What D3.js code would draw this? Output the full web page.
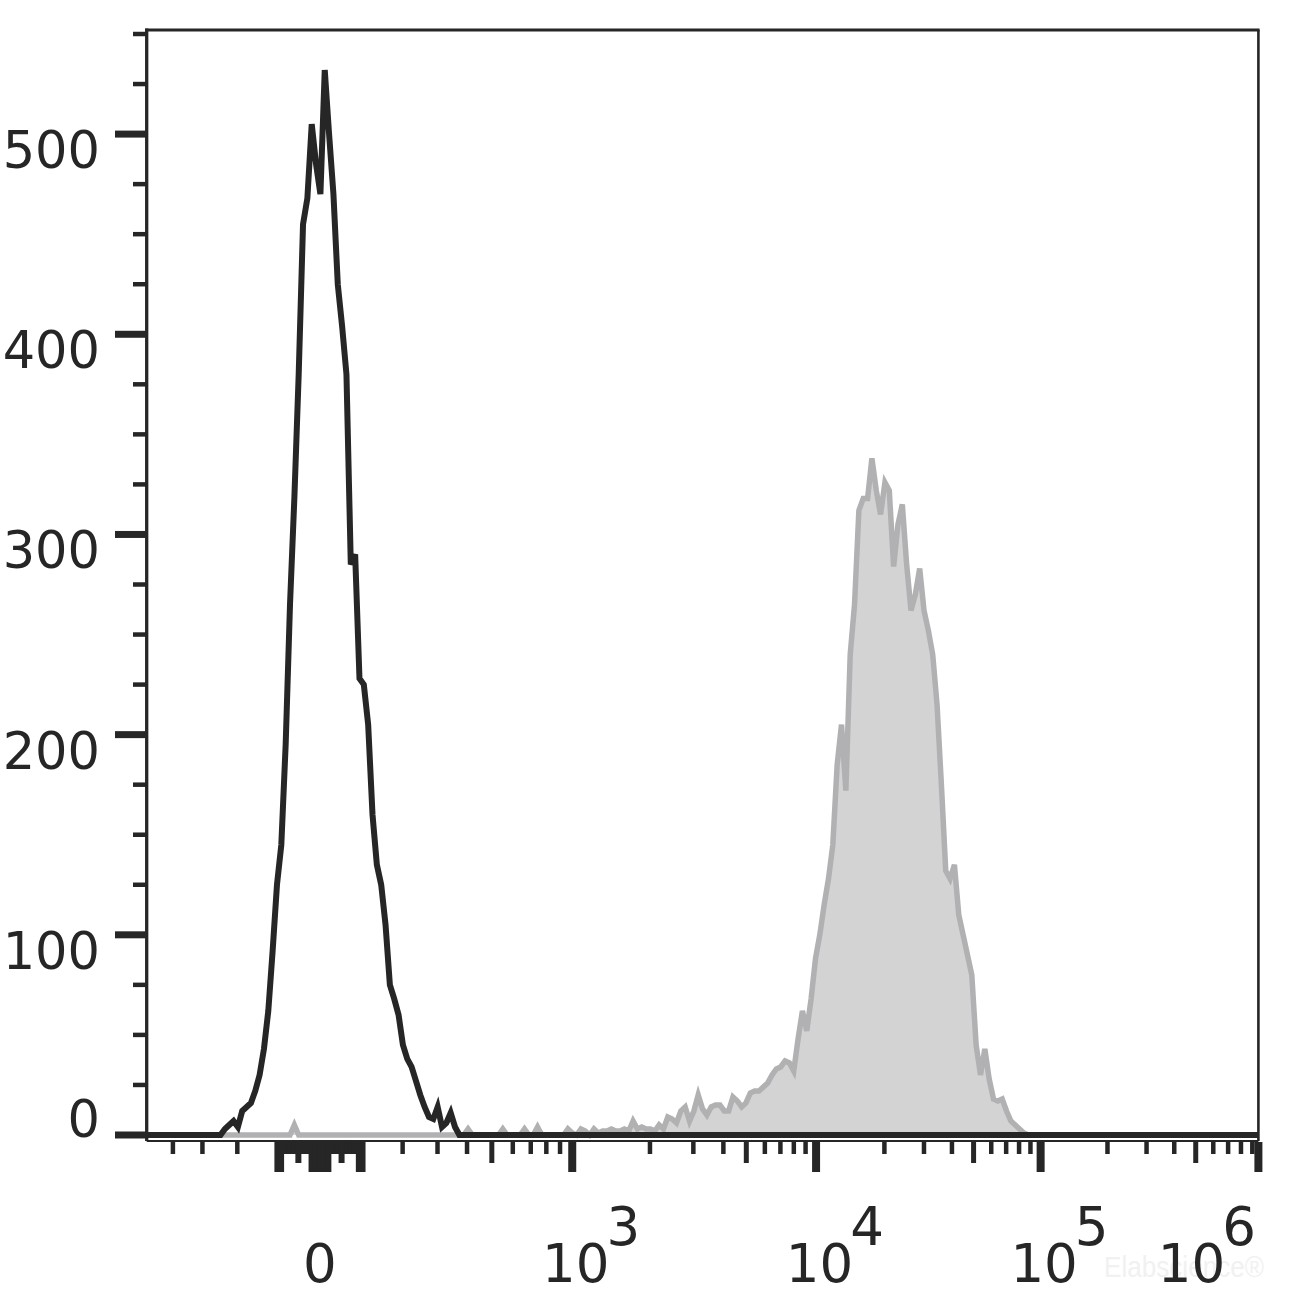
<!DOCTYPE html>
<html><head><meta charset="utf-8">
<script src="https://cdn.jsdelivr.net/npm/d3@7"></script>
<style>html,body{margin:0;padding:0;background:#fff;} svg{display:block;}</style>
</head><body><svg id="chart" width="1308" height="1310"></svg>
<script>
// ---------------- data ----------------
const channelCount = 256;                 // histogram channels across the display
const blackStart = 17;                    // control (unstained) histogram, first channel
const blackCounts = [0,3,5,7,4,12,14,16,22,30,43,62,92,125,145,195,265,318,380,455,
  468,505,485,470,532,500,470,425,404,380,285,290,228,225,205,160,135,125,105,75,
  68,60,45,38,34,27,20,14,9,8,14,4,6,11,4,0];
const grayStart = 18;                     // stained histogram, first channel
const grayCounts = [0,0,0,0,0,0,0,0,0,0,0,0,0,0,0,0,5,
  0,0,0,0,0,0,0,0,0,0,0,0,0,0,0,0,0,0,0,0,0,0,0,0,0,0,0,0,0,0,0,0,0,0,0,0,0,0,0,
  3,0,0,0,0,0,0,0,3,0,0,0,0,3,0,0,4,0,0,0,0,0,0,3,1,0,3,2,0,3,1,2,2,3,2,2,3,2,
  7,3,4,3,3,2,5,3,9,8,6,12,14,7,12,20,13,10,14,15,15,12,12,19,17,14,16,21,22,22,24,26,
  30,33,34,37,36,32,48,62,52,68,88,100,115,128,145,185,205,172,240,265,312,318,318,338,
  322,310,326,322,284,305,315,285,262,270,283,262,252,240,215,175,132,128,135,110,100,90,
  80,45,30,43,28,18,17,18,12,7,5,3,1,0];

const yMajorTicks = [0,100,200,300,400,500];
const yMinorTicks = [25,50,75,125,150,175,225,250,275,325,350,375,425,450,475,525,550];
const yTickLabels = ["0","100","200","300","400","500"];

const xZeroTicksLong = [-100,-90,-20,-10,0,10,20,90,100];
const xZeroTicksMedium = [-50,50];
const xZeroTicksShort = [-80,-70,-60,-40,-30,30,40,60,70,80];
const xTicksShort = [-400,-300,-200,200,300,400,600,700,800,900,
  2000,3000,4000,6000,7000,8000,9000,
  20000,30000,40000,60000,70000,80000,90000,
  200000,300000,400000,600000,700000,800000,900000];
const xTicksMedium = [500,5000,50000,500000];
const xDecades = [1e3,1e4,1e5,1e6];
const xDecadeExponents = ["3","4","5","6"];
const xZeroLabel = "0";
const watermarkText = "Elabscience®";

// biexponential (logicle-like) display parameters
const LOGICLE_A = 55.5, LOGICLE_P = 3;
const ZERO_CHANNEL = 39.9, CH_PER_DECADE = 51.0;

// ---------------- layout ----------------
const L = 146.7, R = 1258.4, T = 30, B = 1141;
const ink = "#262626";
const font = "'DejaVu Sans', Verdana, sans-serif";

const svg = d3.select("#chart");
const xScale = d3.scaleLinear().domain([0, channelCount]).range([L, R]);
const yScale = d3.scaleLinear().domain([-3, 552]).range([B, T]);

function logicleZ(v) {
  if (v === 0) return 0;
  const s = Math.sign(v), a = Math.abs(v) / LOGICLE_A, p = LOGICLE_P;
  let lo = 0, hi = 9;
  for (let i = 0; i < 60; i++) {
    const m = (lo + hi) / 2;
    const f = Math.pow(10, m) - p * p * Math.pow(10, -m / p) + p * p - 1;
    if (f < a) lo = m; else hi = m;
  }
  return s * (lo + hi) / 2;
}
const channelOf = v => ZERO_CHANNEL + logicleZ(v) * CH_PER_DECADE;
const xv = v => Math.min(R, xScale(channelOf(v)));

function fullSeries(start, counts) {
  const out = [];
  for (let c = 0; c <= channelCount; c++) {
    const i = c - start;
    out.push({ch: c, n: (i >= 0 && i < counts.length) ? counts[i] : 0});
  }
  return out;
}
const black = fullSeries(blackStart, blackCounts);
const gray = fullSeries(grayStart, grayCounts);

// stained histogram (filled gray)
svg.append("path").datum(gray)
  .attr("d", d3.area().x(d => xScale(d.ch)).y0(yScale(0)).y1(d => yScale(d.n)))
  .attr("fill", "#d3d3d3");
svg.append("path").datum(gray)
  .attr("d", d3.line().x(d => xScale(d.ch)).y(d => yScale(d.n)))
  .attr("fill", "none").attr("stroke", "#b1b1b3").attr("stroke-width", 5.5)
  .attr("stroke-linejoin", "miter");

// control histogram (black line)
svg.append("path").datum(black)
  .attr("d", d3.line().x(d => xScale(d.ch)).y(d => yScale(d.n)))
  .attr("fill", "none").attr("stroke", ink).attr("stroke-width", 6)
  .attr("stroke-linejoin", "miter");

// frame
svg.append("line").attr("x1", L).attr("x2", R).attr("y1", B).attr("y2", B)
  .attr("stroke", ink).attr("stroke-width", 2);
svg.append("line").attr("x1", L - 1.5).attr("x2", R + 1.2).attr("y1", T).attr("y2", T)
  .attr("stroke", ink).attr("stroke-width", 3);
svg.append("line").attr("x1", R).attr("x2", R).attr("y1", T).attr("y2", B)
  .attr("stroke", ink).attr("stroke-width", 2.6);
svg.append("line").attr("x1", L).attr("x2", L).attr("y1", T - 1.5).attr("y2", B)
  .attr("stroke", ink).attr("stroke-width", 3.3);

// y ticks
svg.append("g").selectAll("line").data(yMinorTicks).join("line")
  .attr("x1", 133).attr("x2", L).attr("y1", d => yScale(d)).attr("y2", d => yScale(d))
  .attr("stroke", ink).attr("stroke-width", 4.5);
svg.append("g").selectAll("line").data(yMajorTicks).join("line")
  .attr("x1", 115).attr("x2", L).attr("y1", d => yScale(d)).attr("y2", d => yScale(d))
  .attr("stroke", ink).attr("stroke-width", 7);
svg.append("g").selectAll("text").data(yMajorTicks).join("text")
  .attr("x", 100).attr("y", d => d === 0 ? yScale(d) + 2 : yScale(d) + 34)
  .attr("text-anchor", "end").attr("font-family", font).attr("font-size", 51)
  .attr("fill", ink).text((d, i) => yTickLabels[i]);

// x ticks
const tickTop = B + 1;
function drawXTicks(vals, len, w) {
  svg.append("g").selectAll("line").data(vals).join("line")
    .attr("x1", d => xv(d)).attr("x2", d => xv(d))
    .attr("y1", tickTop).attr("y2", tickTop + len)
    .attr("stroke", ink).attr("stroke-width", w);
}
drawXTicks(xTicksShort, 12, 4.5);
drawXTicks(xZeroTicksShort, 12, 5.5);
drawXTicks(xTicksMedium, 21, 5);
drawXTicks(xZeroTicksMedium, 21, 6);
drawXTicks(xZeroTicksLong, 30, 5.5);
drawXTicks(xDecades, 30, 8);

// x labels
svg.append("text").attr("x", xv(0)).attr("y", 1282).attr("text-anchor", "middle")
  .attr("font-family", font).attr("font-size", 53).attr("fill", ink).text(xZeroLabel);
xDecades.forEach((v, i) => {
  const g = svg.append("g");
  const bx = xv(v) + 3.5;
  const base = g.append("text").attr("x", bx).attr("y", 1282).attr("text-anchor", "middle")
    .attr("font-family", font).attr("font-size", 53).attr("fill", ink).text("10");
  const w = base.node().getComputedTextLength();
  g.append("text").attr("x", bx + w / 2 - 3).attr("y", 1245)
    .attr("font-family", font).attr("font-size", 53).attr("fill", ink).text(xDecadeExponents[i]);
  const bb = g.node().getBBox();
  const limit = 1256;
  if (bb.x + bb.width > limit) g.attr("transform", `translate(${limit - (bb.x + bb.width)},0)`);
});

// watermark (faint, behind nothing important)
svg.insert("text", ":first-child").attr("x", 1104).attr("y", 1277)
  .attr("font-family", "'Liberation Sans', Arial, sans-serif").attr("font-size", 30)
  .attr("textLength", 160).attr("lengthAdjust", "spacingAndGlyphs")
  .attr("fill", "#f1f1f1").text(watermarkText);
</script>
</body></html>
